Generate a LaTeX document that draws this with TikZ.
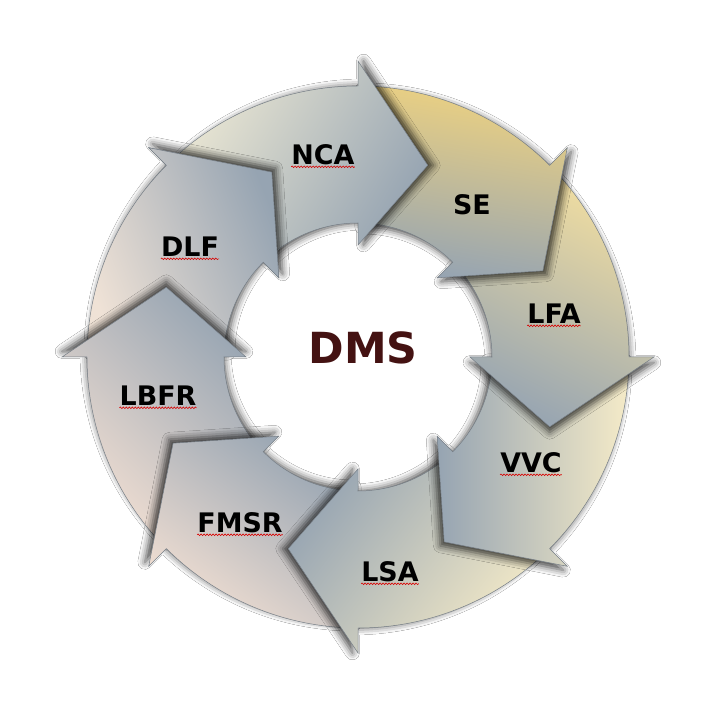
\documentclass[tikz,border=0pt]{standalone}
\usepackage{fontspec}
\setmainfont{DejaVu Sans}
\usetikzlibrary{shadows.blur,decorations.pathmorphing}

\definecolor{slate}{RGB}{150,164,178}
\definecolor{cream}{RGB}{236,232,212}
\definecolor{gold}{RGB}{238,210,128}
\definecolor{palegold}{RGB}{243,223,160}
\definecolor{ivory}{RGB}{245,235,200}
\definecolor{peach}{RGB}{243,224,211}
\definecolor{blush}{RGB}{239,226,214}
\definecolor{maroon}{RGB}{68,18,18}
\definecolor{edge}{RGB}{118,126,134}

\tikzset{
  ringpiece/.style={draw=edge, line width=0.5bp},
  steplabel/.style={inner sep=0pt, font=\fontsize{27}{30}\selectfont\bfseries},
  spellmark/.style={draw=red!85!black, line width=0.6bp, decorate,
    decoration={snake, amplitude=0.8bp, segment length=3bp}}
}

% outline of one piece of the ring, #1 = base angle of its head
\newcommand{\ringpath}[1]{(#1+45:134) arc[start angle=#1+45, end angle=#1, radius=134bp]
    -- (#1:112) -- (#1-20:204) -- (#1:296) -- (#1:271)
    arc[start angle=#1, end angle=#1+45, radius=271bp] -- cycle}

% shadow of a piece, thrown forward along the ring
\newcommand{\ringcast}[1]{%
  \pgfmathsetmacro\castx{5.5*cos(#1-90)}%
  \pgfmathsetmacro\casty{5.5*sin(#1-90)}%
  \path[blur shadow={shadow xshift=\castx bp, shadow yshift=\casty bp,
      shadow blur radius=7bp, shadow opacity=72}] \ringpath{#1};}

% one piece: base angle, light colour, shading angle
\newcommand{\ringarrow}[3]{%
  \ringcast{#1}%
  \path[ringpiece, top color=#2, bottom color=slate, shading angle=#3] \ringpath{#1};}

\begin{document}
\begin{tikzpicture}[x=1bp, y=1bp]
  \fill[white] (-358,-358) rectangle (357,357);

  % each piece lies over the one that follows it
  \ringarrow{135}{blush}{112}  % DLF
  \ringarrow{180}{peach}{135}  % LBFR
  \ringarrow{-135}{peach}{144} % FMSR
  \ringarrow{-90}{ivory}{233}  % LSA
  \ringarrow{-45}{ivory}{270}  % VVC
  \ringarrow{0}{palegold}{-27} % LFA
  \ringarrow{45}{gold}{-10}    % SE
  \ringarrow{90}{cream}{60}    % NCA
  % head of DLF once more, over the tail of NCA
  \begin{scope}
    \clip (0,0) -- (135:340) arc[start angle=135, end angle=95, radius=340bp] -- cycle;
    \clip \ringpath{90};
    \ringcast{135}
  \end{scope}
  \begin{scope}
    \clip (0,0) -- (140:340) arc[start angle=140, end angle=95, radius=340bp] -- cycle;
    \path[ringpiece, top color=blush, bottom color=slate, shading angle=112] \ringpath{135};
  \end{scope}

  \node (nca) [steplabel] at (-35,202) {NCA};
  \node (se) [steplabel] at (114,152) {SE};
  \node (lfa) [steplabel] at (196,43) {LFA};
  \node (vvc) [steplabel] at (173,-106) {VVC};
  \node (lsa) [steplabel] at (32,-215) {LSA};
  \node (fmsr) [steplabel] at (-118,-166) {FMSR};
  \node (lbfr) [steplabel] at (-200,-39) {LBFR};
  \node (dlf) [steplabel] at (-168,110) {DLF};
  \node (dms) [inner sep=0pt, text=maroon, font=\fontsize{43}{48}\selectfont\bfseries] at (5,9.5) {DMS};

  \draw[spellmark] ([yshift=-2bp]nca.base west) -- ([yshift=-2bp]nca.base east);
  \draw[spellmark] ([yshift=-2bp]lfa.base west) -- ([yshift=-2bp]lfa.base east);
  \draw[spellmark] ([yshift=-2bp]vvc.base west) -- ([yshift=-2bp]vvc.base east);
  \draw[spellmark] ([yshift=-2bp]lsa.base west) -- ([yshift=-2bp]lsa.base east);
  \draw[spellmark] ([yshift=-2bp]fmsr.base west) -- ([yshift=-2bp]fmsr.base east);
  \draw[spellmark] ([yshift=-2bp]lbfr.base west) -- ([yshift=-2bp]lbfr.base east);
  \draw[spellmark] ([yshift=-2bp]dlf.base west) -- ([yshift=-2bp]dlf.base east);
\end{tikzpicture}
\end{document}
